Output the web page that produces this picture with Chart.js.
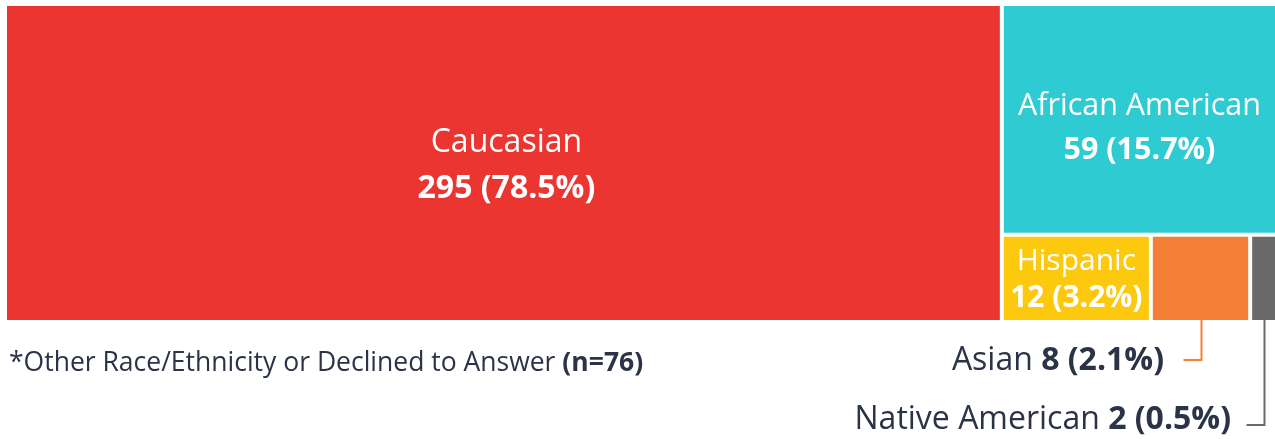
<!DOCTYPE html>
<html>
<head>
<meta charset="utf-8">
<script src="https://cdn.jsdelivr.net/npm/chart.js@4.4.0/dist/chart.umd.min.js"></script>
<style>
  html, body { margin: 0; padding: 0; background: #fff; }
  #wrap { position: relative; width: 1275px; height: 439px; }
</style>
</head>
<body>
<div id="wrap"><canvas id="tree"></canvas></div>
<script>
const categories = ["Caucasian", "African American", "Hispanic", "Asian", "Native American"];
const counts = [295, 59, 12, 8, 2];
const percents = ["78.5%", "15.7%", "3.2%", "2.1%", "0.5%"];
const colors = ["#ea3531", "#2ecbd3", "#fdc90e", "#f38036", "#6a6a6a"];
const footnote = "*Other Race/Ethnicity or Declined to Answer";
const footnoteN = "(n=76)";

const total = counts.reduce((a, b) => a + b, 0);

// slice and dice: biggest takes a full column, next sits on top of the rest,
// the rest share the bottom row. x runs 0..total, y runs 0..1 (top = 0)
function layout() {
  const cells = [];
  const rest = total - counts[0];
  cells.push({ x0: 0, x1: counts[0], y0: 0, y1: 1 });
  const split = counts[1] / rest;
  cells.push({ x0: counts[0], x1: total, y0: 0, y1: split });
  const rowTotal = counts.slice(2).reduce((a, b) => a + b, 0);
  let x = counts[0];
  for (let i = 2; i < counts.length; i++) {
    const w = rest * counts[i] / rowTotal;
    cells.push({ x0: x, x1: x + w, y0: split, y1: 1 });
    x += w;
  }
  return cells;
}
const cells = layout();

const FONT = "'Open Sans', 'Noto Sans', sans-serif";
const DARK = "#2b3346";
const GAP = 2;

const treemapPlugin = {
  id: "treemap",
  afterDatasetsDraw(chart) {
    const { ctx, scales: { x, y } } = chart;
    const boxes = cells.map((c) => {
      let l = x.getPixelForValue(c.x0), r = x.getPixelForValue(c.x1);
      let t = y.getPixelForValue(c.y0), b = y.getPixelForValue(c.y1);
      if (c.x0 > x.min) l += GAP;
      if (c.x1 < x.max) r -= GAP;
      if (c.y0 > y.min) t += GAP;
      if (c.y1 < y.max) b -= GAP;
      return { l, r, t, b };
    });

    ctx.save();
    boxes.forEach((bx, i) => {
      ctx.fillStyle = colors[i];
      ctx.fillRect(bx.l, bx.t, bx.r - bx.l, bx.b - bx.t);
    });

    ctx.textAlign = "center";
    ctx.textBaseline = "middle";
    ctx.fillStyle = "#ffffff";
    // labels inside the three big cells
    const inside = [
      { i: 0, dx: 3, dy: 3, gap: 46, size: 32 },
      { i: 1, dx: 0, dy: 9, gap: 44, size: 30.5 },
      { i: 2, dx: 0, dy: 2, gap: 37, size: 30 },
    ];
    inside.forEach((o) => {
      const bx = boxes[o.i];
      const cx = (bx.l + bx.r) / 2 + o.dx;
      const cy = (bx.t + bx.b) / 2 + o.dy;
      ctx.font = `400 ${o.size}px ${FONT}`;
      ctx.fillText(categories[o.i], cx, cy - o.gap / 2);
      ctx.font = `700 ${o.size}px ${FONT}`;
      ctx.fillText(`${counts[o.i]} (${percents[o.i]})`, cx, cy + o.gap / 2);
    });

    // small cells get leader lines and labels below the map
    const outside = [
      { i: 3, lineY: 360, textY: 361, textRight: 1164, stub: 18 },
      { i: 4, lineY: 425, textY: 420, textRight: 1231, stub: 18 },
    ];
    outside.forEach((o) => {
      const bx = boxes[o.i];
      const cx = Math.round((bx.l + bx.r) / 2) + 0.5;
      ctx.strokeStyle = colors[o.i];
      ctx.lineWidth = 2;
      ctx.beginPath();
      ctx.moveTo(cx, bx.b);
      ctx.lineTo(cx, o.lineY);
      ctx.lineTo(cx - o.stub, o.lineY);
      ctx.stroke();

      ctx.textAlign = "right";
      ctx.fillStyle = DARK;
      const val = `${counts[o.i]} (${percents[o.i]})`;
      ctx.font = `700 32px ${FONT}`;
      const vw = ctx.measureText(val).width;
      ctx.fillText(val, o.textRight, o.textY);
      ctx.font = `400 32px ${FONT}`;
      ctx.fillText(categories[o.i] + " ", o.textRight - vw, o.textY);
    });

    // footnote
    ctx.textAlign = "left";
    ctx.fillStyle = DARK;
    ctx.font = `400 26.5px ${FONT}`;
    ctx.fillText(footnote + " ", 9, 363);
    const fw = ctx.measureText(footnote + " ").width;
    ctx.font = `700 26.5px ${FONT}`;
    ctx.fillText(footnoteN, 9 + fw, 363);
    ctx.restore();
  },
};

new Chart(document.getElementById("tree"), {
  type: "scatter",
  data: {
    datasets: [{
      data: cells.map((c, i) => ({ x: (c.x0 + c.x1) / 2, y: (c.y0 + c.y1) / 2, label: categories[i] })),
      pointRadius: 0,
      pointHoverRadius: 0,
    }],
  },
  options: {
    responsive: true,
    maintainAspectRatio: false,
    animation: false,
    layout: { padding: { left: 7, top: 6, right: 0, bottom: 119 } },
    plugins: { legend: { display: false }, tooltip: { enabled: false } },
    scales: {
      x: { type: "linear", display: false, min: 0, max: total },
      y: { type: "linear", display: false, min: 0, max: 1, reverse: true },
    },
  },
  plugins: [treemapPlugin],
});
</script>
</body>
</html>
